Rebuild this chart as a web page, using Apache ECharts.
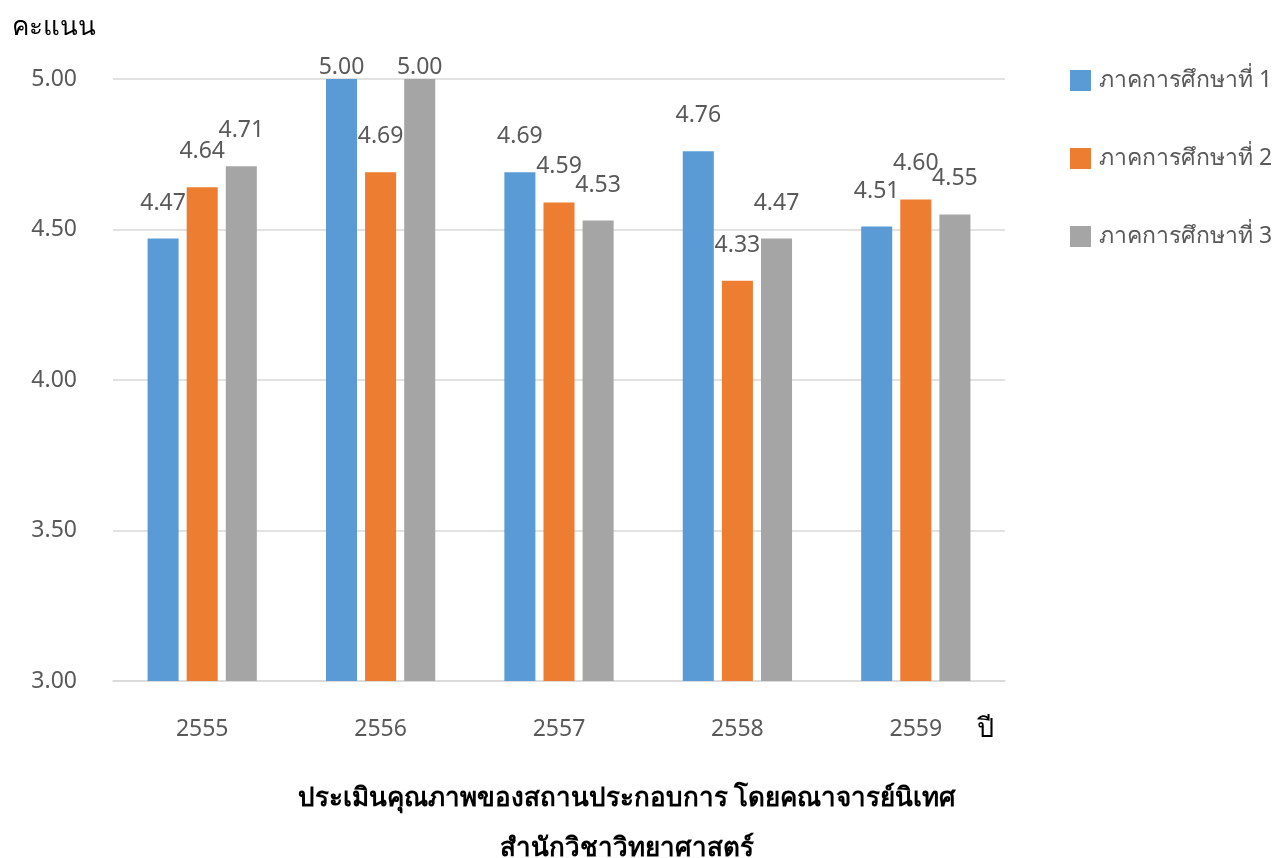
<!DOCTYPE html>
<html>
<head>
<meta charset="utf-8">
<script src="https://cdn.jsdelivr.net/npm/echarts@6/dist/echarts.min.js"></script>
<style>
html,body{margin:0;padding:0;background:#fff;}
#c{width:1276px;height:858px;}
</style>
</head>
<body>
<div id="c"></div>
<script>
var categories = ['2555', '2556', '2557', '2558', '2559'];
var seriesNames = ['ภาคการศึกษาที่ 1', 'ภาคการศึกษาที่ 2', 'ภาคการศึกษาที่ 3'];
var term1 = [4.47, 5.00, 4.69, 4.76, 4.51];
var term2 = [4.64, 4.69, 4.59, 4.33, 4.60];
var term3 = [4.71, 5.00, 4.53, 4.47, 4.55];
var yTicks = [3.00, 3.50, 4.00, 4.50, 5.00];
var colors = ['#5B9BD5', '#ED7D31', '#A5A5A5'];

var FONT = "'Noto Sans', 'Open Sans', sans-serif";

function items(arr) {
  return arr.map(function (v) {
    return { value: v, label: { distance: v >= 5 ? 0 : 24 } };
  });
}

var chart = echarts.init(document.getElementById('c'), null, { renderer: 'canvas' });
var allData = [term1, term2, term3];
var series = allData.map(function (d, i) {
  return {
    name: seriesNames[i],
    type: 'bar',
    data: items(d),
    barWidth: '17.4%',
    barGap: '26%',
    itemStyle: { color: colors[i] },
    label: {
      show: true,
      position: 'top',
      color: '#595959',
      fontFamily: FONT,
      fontSize: 23,
      formatter: function (p) { return p.value.toFixed(2); }
    }
  };
});

chart.setOption({
  animation: false,
  backgroundColor: '#ffffff',
  color: colors,
  grid: { left: 113, right: 271, top: 79, bottom: 177, containLabel: false },
  title: [
    {
      text: 'ประเมินคุณภาพของสถานประกอบการ โดยคณาจารย์นิเทศ',
      left: 622, top: 781, textAlign: 'center',
      textStyle: { fontFamily: FONT, fontSize: 26, fontWeight: 'bold', color: '#000000' }
    },
    {
      text: 'สำนักวิชาวิทยาศาสตร์',
      left: 622, top: 831, textAlign: 'center',
      textStyle: { fontFamily: FONT, fontSize: 26, fontWeight: 'bold', color: '#000000' }
    }
  ],
  legend: {
    orient: 'vertical',
    left: 1065, top: 64,
    itemWidth: 21, itemHeight: 21, itemGap: 55,
    icon: 'rect',
    textStyle: { fontFamily: FONT, fontSize: 23, color: '#595959', padding: [0, 0, 0, 3] },
    data: seriesNames
  },
  xAxis: {
    type: 'category',
    data: categories,
    axisLine: { show: true, lineStyle: { color: '#D9D9D9', width: 1.5 } },
    axisTick: { show: false },
    axisLabel: { color: '#595959', fontFamily: FONT, fontSize: 23, margin: 37 }
  },
  yAxis: {
    type: 'value',
    min: 3, max: 5, interval: 0.5,
    axisLine: { show: false },
    axisTick: { show: false },
    splitLine: { lineStyle: { color: '#D9D9D9', width: 1.5 } },
    axisLabel: {
      color: '#595959', fontFamily: FONT, fontSize: 23, margin: 36,
      formatter: function (v) { return v.toFixed(2); }
    }
  },
  graphic: [
    {
      type: 'text', left: 12, top: 15,
      style: { text: 'คะแนน', fontFamily: FONT, fontSize: 26, fill: '#000000' }
    },
    {
      type: 'text', left: 977, top: 716,
      style: { text: 'ปี', fontFamily: FONT, fontSize: 27, fill: '#000000' }
    }
  ],
  series: series
});
</script>
</body>
</html>
